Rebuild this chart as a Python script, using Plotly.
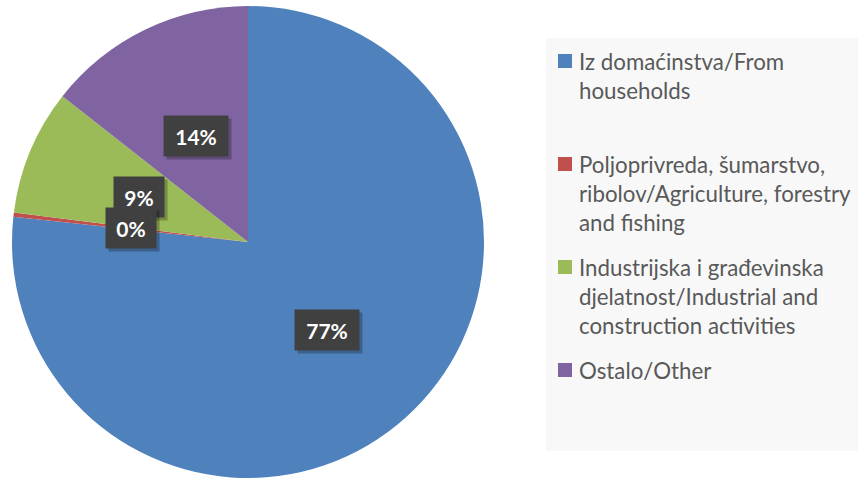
import math
import plotly.graph_objects as go

W, H = 858, 478

categories = [
    "Iz domaćinstva/From<br>households",
    "Poljoprivreda, šumarstvo,<br>ribolov/Agriculture, forestry<br>and fishing",
    "Industrijska i građevinska<br>djelatnost/Industrial and<br>construction activities",
    "Ostalo/Other",
]
values = [76.7, 0.3, 8.6, 14.4]
label_texts = ["77%", "0%", "9%", "14%"]
colors = ["#4F81BD", "#C0504D", "#9BBB59", "#8064A2"]

dom_x = [12 / W, 484 / W]
dom_y = [0.0, 472 / H]

fig = go.Figure(
    go.Pie(
        labels=[c.replace("<br>", " ") for c in categories],
        values=values,
        marker=dict(colors=colors, line=dict(width=0)),
        sort=False,
        direction="clockwise",
        rotation=0,
        textinfo="none",
        hoverinfo="label+percent",
        domain=dict(x=dom_x, y=dom_y),
        showlegend=False,
    )
)

# geometry of the pie (pixels)
cx = W * (dom_x[0] + dom_x[1]) / 2
cy = H * (dom_y[0] + dom_y[1]) / 2  # from bottom
R = min(W * (dom_x[1] - dom_x[0]), H * (dom_y[1] - dom_y[0])) / 2

total = sum(values)
cum = 0
positions = []
for v in values:
    mid = (cum + v / 2) / total * 2 * math.pi
    cum += v
    px = cx + 0.5 * R * math.sin(mid)
    py = cy + 0.5 * R * math.cos(mid)
    positions.append((px / W, py / H))

order = [0, 3, 2, 1]
annotations = []
for i in order:
    x, y = positions[i]
    w = 46 if len(label_texts[i]) > 2 else 32
    common = dict(x=x, y=y, xref="paper", yref="paper", showarrow=False,
                  width=w, height=22, borderpad=9, xanchor="center", yanchor="middle")
    annotations.append(dict(text=" ", bgcolor="rgba(0,0,0,0.25)", xshift=3, yshift=-3,
                            font=dict(size=20), **common))
    annotations.append(dict(text="<b>" + label_texts[i] + "</b>", bgcolor="#404040",
                            font=dict(family="Lato", size=21, color="white"), **common))

# legend box (drawn manually, entries evenly spread as in the original)
box_x0, box_x1, box_top, box_bottom = 546, W, 38, 451
entry_step = 103
first_line_center = 61
legend_font = 22.3
line_h = 1.3 * legend_font
shapes = [dict(type="rect", xref="paper", yref="paper",
               x0=box_x0 / W, x1=box_x1 / W, y0=1 - box_bottom / H, y1=1 - box_top / H,
               fillcolor="#F8F8F8", line=dict(width=0), layer="below")]
for i, (name, col) in enumerate(zip(categories, colors)):
    yc = first_line_center + i * entry_step
    shapes.append(dict(type="rect", xref="paper", yref="paper",
                       x0=558 / W, x1=572 / W, y0=1 - (yc + 7) / H, y1=1 - (yc - 7) / H,
                       fillcolor=col, line=dict(width=0)))
    annotations.append(dict(text=name, x=577 / W, y=1 - (yc - line_h / 2 - 1) / H,
                            xref="paper", yref="paper", showarrow=False,
                            xanchor="left", yanchor="top", align="left",
                            font=dict(family="Lato", size=legend_font, color="#595959")))

fig.update_layout(
    width=W,
    height=H,
    margin=dict(l=0, r=0, t=0, b=0),
    paper_bgcolor="white",
    plot_bgcolor="white",
    showlegend=False,
    shapes=shapes,
    annotations=annotations,
)

fig.write_html("out.html", config={"displayModeBar": False},
               post_script="document.body.style.margin='0';")
